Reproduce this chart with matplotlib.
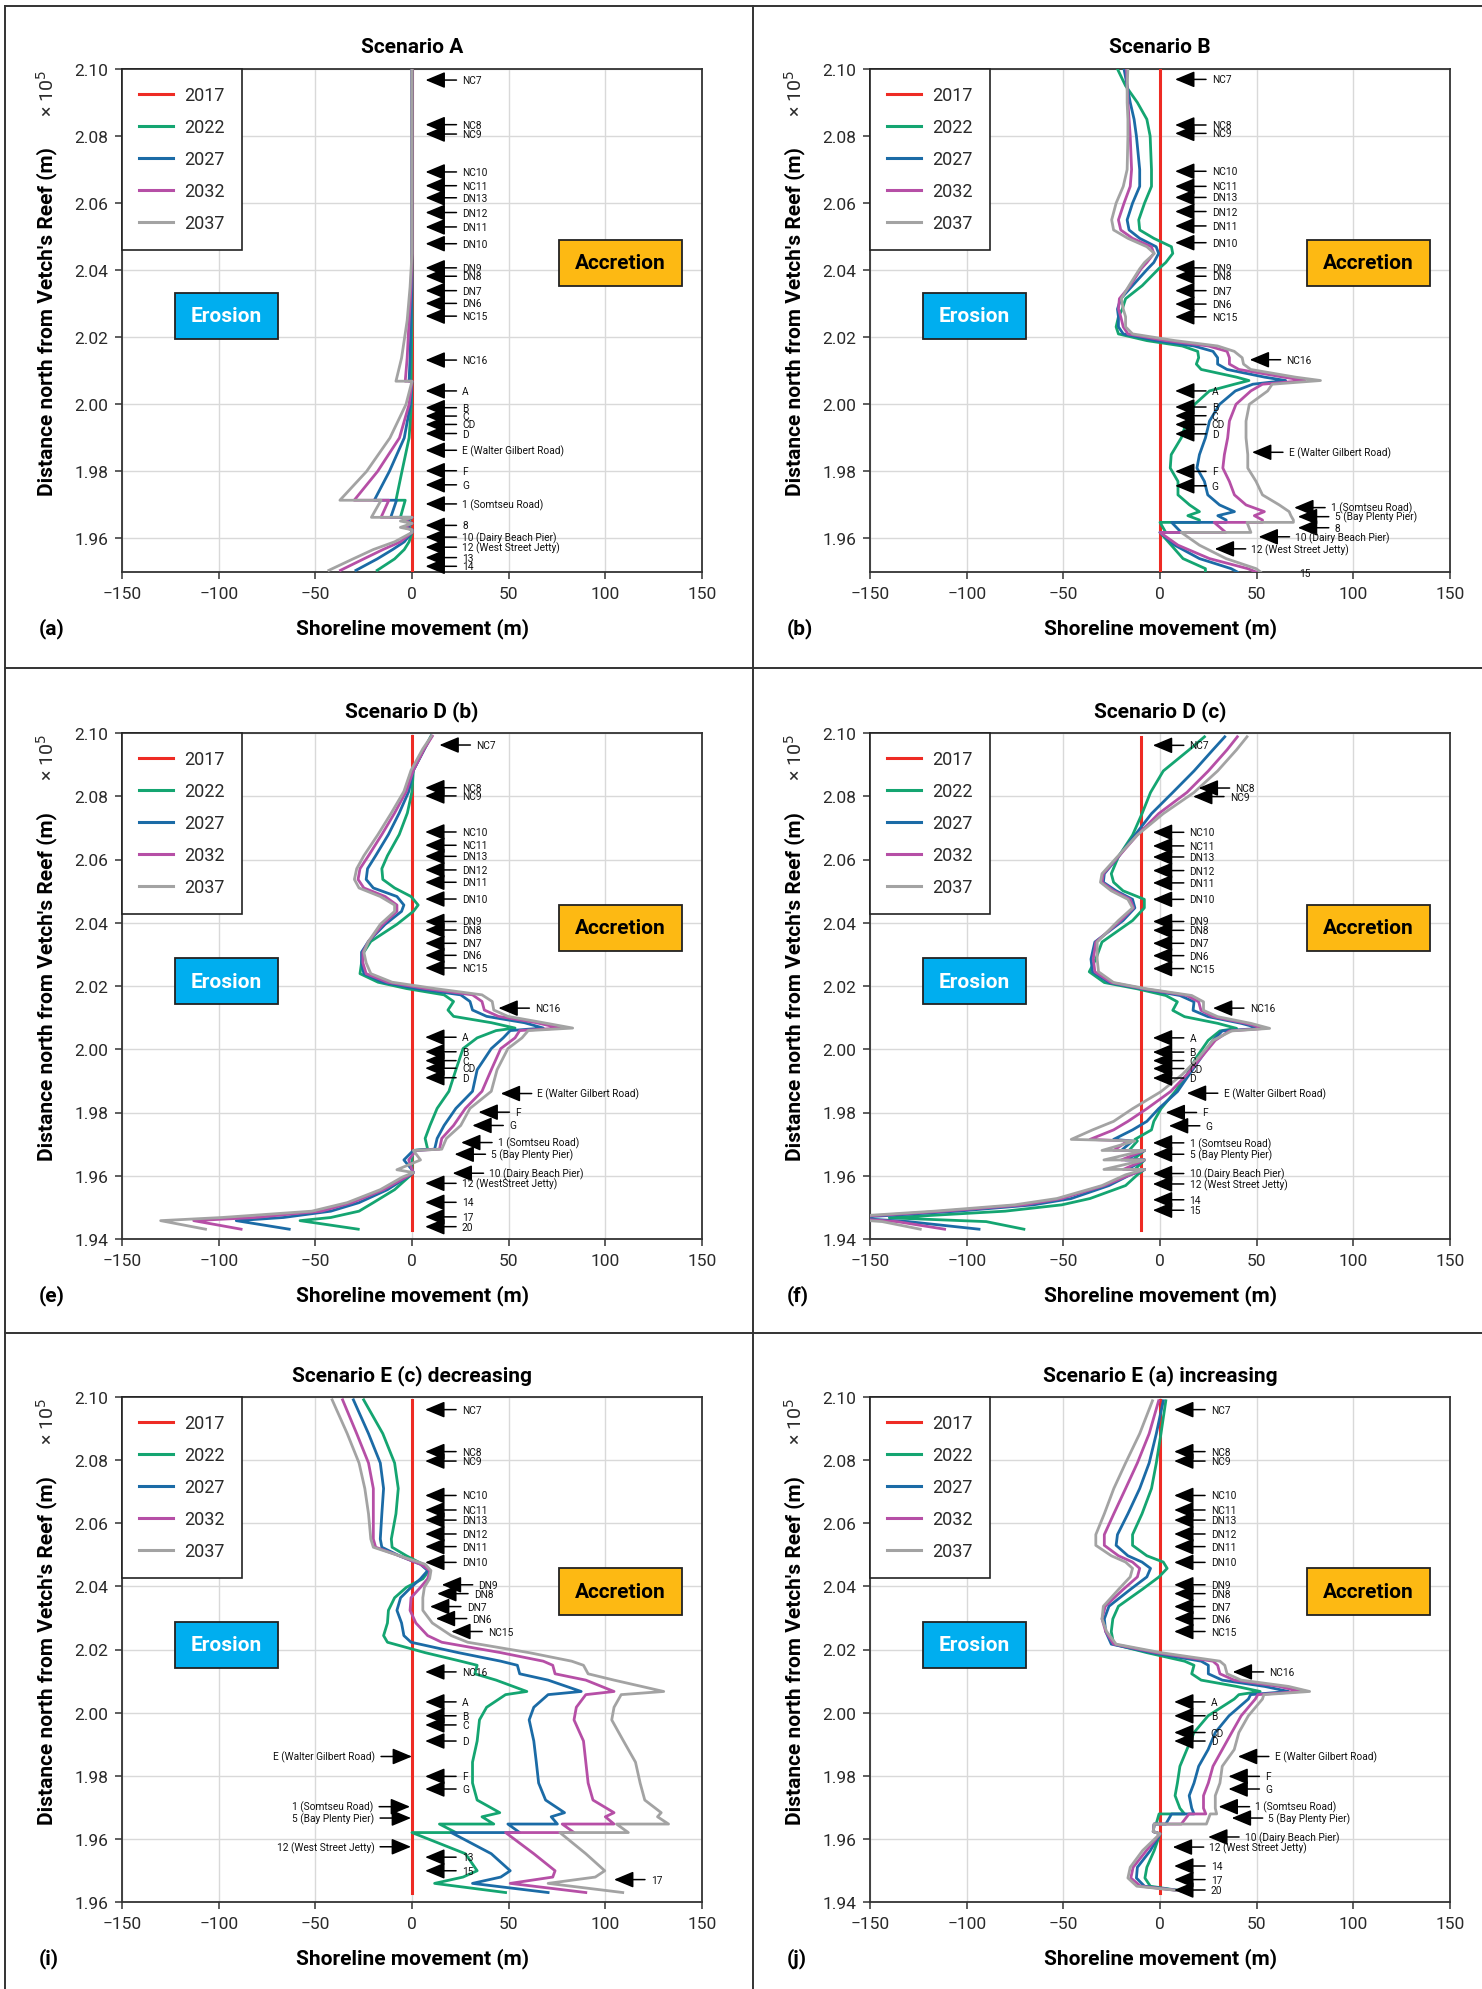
import matplotlib.pyplot as plt
from matplotlib.lines import Line2D
from matplotlib.patches import Rectangle

plt.rcParams['font.family'] = ['Roboto', 'DejaVu Sans']

years = ['2017', '2022', '2027', '2032', '2037']
colours = ['#ee2b24', '#14a571', '#1b6ba6', '#b64fa6', '#a3a3a3']

# ---------------- (a) Scenario A ----------------
a_north = [2.100, 2.045, 2.035, 2.025, 2.0138, 2.0069, 2.0069, 2.000, 1.990, 1.980, 1.9714, 1.9714,
           1.9663, 1.9663, 1.9652, 1.9645, 1.9633, 1.9626, 1.9618, 1.9590, 1.9567, 1.9539, 1.9505]
a_2022 = [0, 0, 0, 0, -0.3, -0.5, 0, -0.3, -1.5, -5.2, -8.3, -3.5, -6, 0, -2, 0, -2, 0, 0, -1.5, -4, -9, -18]
a_2027 = [0, 0, 0, -0.5, -1, -1.5, 0, -0.8, -4, -11.7, -19.5, -8, -11, 0, -3, 0, -3, 0, 0, -4, -10, -18, -29]
a_2032 = [0, 0, -0.5, -1.5, -2.5, -3.5, 0, -1.5, -6.5, -17.8, -29.9, -12, -16, 0, -4, 0, -4, 0, 0, -6, -15, -25, -37]
a_2037 = [0, 0, -1, -2.5, -5.4, -8.3, 0, -3.1, -11.4, -23.5, -37.3, -16, -21, 0, -6, 0, -6, 0, 0, -9, -20, -30.5, -43]
a_base_x = [0, 0]
a_base_north = [2.100, 1.950]
a_tags = ['NC7', 'NC8', 'NC9', 'NC10', 'NC11', 'DN13', 'DN12', 'DN11', 'DN10', 'DN9', 'DN8', 'DN7', 'DN6',
          'NC15', 'NC16', 'A', 'B', 'C', 'CD', 'D', 'E (Walter Gilbert Road)', 'F', 'G', '1 (Somtseu Road)',
          '8', '10 (Dairy Beach Pier)', '12 (West Street Jetty)', '13', '14']
a_tag_north = [2.0967, 2.0834, 2.0806, 2.0693, 2.0652, 2.0616, 2.0572, 2.0529, 2.0479, 2.0407, 2.0382,
               2.0339, 2.0301, 2.0263, 2.0132, 2.0040, 1.9990, 1.9965, 1.9940, 1.9913, 1.9863, 1.9802,
               1.9760, 1.9703, 1.9639, 1.9604, 1.9574, 1.9543, 1.9517]
a_tag_tip = [7] * 29

# ---------------- (b) Scenario B ----------------
b_north = [2.100, 2.095, 2.090, 2.085, 2.080, 2.070, 2.065, 2.060, 2.055, 2.052, 2.0495, 2.047, 2.045,
           2.0423, 2.0404, 2.0354, 2.0315, 2.0284, 2.0261, 2.0231, 2.0210, 2.0190, 2.0174, 2.0158, 2.0139,
           2.0120, 2.0104, 2.0081, 2.0071, 2.0060, 2.004, 2.000, 1.995, 1.990, 1.985, 1.981, 1.977, 1.973,
           1.970, 1.968, 1.9668, 1.9655, 1.9648, 1.9648, 1.9618, 1.9618, 1.958, 1.954, 1.951, 1.950]
b_2022 = [-22, -17.8, -11.7, -6.8, -5.1, -4.4, -4.4, -8, -11, -10.5, -3.2, 5.9, 6.6, 3, -0.7, -9.2, -17.8,
          -19.5, -21.5, -22.7, -21.5, -6.8, 11.5, 19.5, 20, 18.8, 21.3, 39.6, 46, 38.5, 25.6, 17.9, 13.9,
          11, 5.8, 5.3, 9.3, 9.3, 15.3, 20.4, 14.4, 20.4, 20.4, 0, 3, 0, 5.8, 11.9, 23.5, 23.5]
b_2027 = [-18.6, -17, -15.4, -13.4, -12.2, -10.5, -10.5, -14.2, -17, -16, -10.5, -2, -0.7, -3.2, -6.4,
          -14.2, -20.3, -22, -21.5, -21.5, -19, -2, 17.6, 27.4, 29.8, 29.8, 34.7, 54.2, 65, 48, 39, 30.8,
          25.6, 23.5, 20.4, 19.1, 23, 24.7, 30.8, 38.5, 29.9, 34.2, 34.2, 6, 11, 0, 7.6, 20.4, 36.8, 40]
b_2032 = [-17.3, -17, -16.6, -16, -15.4, -14.7, -15.4, -18.6, -21.5, -20.3, -14.2, -4.4, -3.2, -6.8, -9.8,
          -15.4, -21, -21.5, -20.3, -19, -16.6, 3, 25, 34.7, 35.9, 35.9, 40.8, 64, 75, 53, 47, 39.3, 35.9,
          35, 33.3, 32.5, 35.9, 38.5, 44.5, 54, 48.8, 53, 53, 28, 34, 0, 9.3, 25.6, 45.4, 49.7]
b_2037 = [-16.6, -17, -17, -16.6, -16.6, -17, -19, -22.7, -25, -24, -16.6, -6.8, -2.9, -8, -10.5, -16,
          -20, -19, -17.8, -17.8, -14.2, 7.8, 29.8, 38.4, 42.5, 43.2, 46.9, 70.1, 83, 58, 55.7, 46.2, 44.5,
          44.5, 45.4, 45.4, 49.7, 53, 61.7, 66.8, 67.7, 69, 69, 45, 47, 11, 20.4, 34.2, 49.7, 52]
b_base_x = [0, 0]
b_base_north = [2.100, 1.950]
b_tags = ['NC7', 'NC8', 'NC9', 'NC10', 'NC11', 'DN13', 'DN12', 'DN11', 'DN10', 'DN9', 'DN8', 'DN7', 'DN6',
          'NC15', 'NC16', 'A', 'B', 'C', 'CD', 'D', 'E (Walter Gilbert Road)', 'F', 'G', '1 (Somtseu Road)',
          '5 (Bay Plenty Pier)', '8', '10 (Dairy Beach Pier)', '12 (West Street Jetty)', '15']
b_tag_north = [2.0969, 2.0833, 2.0808, 2.0695, 2.0650, 2.0617, 2.0575, 2.0532, 2.0482, 2.0407, 2.0382,
               2.0339, 2.0299, 2.0261, 2.0133, 2.0040, 1.9992, 1.9966, 1.9940, 1.9912, 1.9857, 1.9800,
               1.9757, 1.9692, 1.9665, 1.9632, 1.9605, 1.9569, 1.9496]
b_tag_tip = [7.8] * 14 + [46.4] + [7.8] * 5 + [47.6, 7.8, 7.8, 69.4, 71.3, 71.3, 51, 28.3, 53]

# ---------------- (e) Scenario D (b) ----------------
e_north = [2.099, 2.095, 2.0882, 2.0815, 2.0747, 2.0679, 2.0612, 2.0571, 2.0537, 2.051, 2.0483, 2.0456,
           2.0436, 2.0395, 2.0341, 2.0307, 2.0273, 2.0239, 2.0212, 2.0192, 2.0172, 2.0151, 2.0124, 2.0104,
           2.0084, 2.0067, 2.0059, 2.0036, 2.0002, 1.9935, 1.9867, 1.9813, 1.9759, 1.9718, 1.9684, 1.968,
           1.965, 1.9619, 1.961, 1.9596, 1.9556, 1.9515, 1.9488, 1.9468, 1.9458, 1.9431]
e_2022 = [9.8, 6.4, 0.7, 0, -2.4, -6.6, -12.7, -15.6, -15.1, -9, -0.5, 3.2, 0.7, -7.8, -21.3, -24.9, -26.1,
          -26.9, -17.6, -2.9, 16.6, 21.5, 18.6, 21.5, 41, 53.3, 43.5, 33.7, 26.4, 22.7, 19.1, 13, 9.3, 6.8,
          8.1, 0.7, 0, 0, 0.7, -1.7, -9, -20, -27.4, -42, -57.9, -27.8]
e_2027 = [10, 6.5, 0.7, -1.7, -6.6, -12.2, -18.8, -23, -23.7, -20, -7.8, -4.2, -5.4, -13.9, -22.5, -26.1,
          -26.1, -24.9, -15.1, 2, 25.2, 30, 31.3, 38.6, 58.1, 67.9, 50.8, 47.2, 41, 33.7, 31.3, 22.7, 16.6,
          13, 11.7, 0.7, -4.2, 0, 0.7, -2.5, -12.7, -27.4, -42, -66.5, -90.9, -63.5]
e_2032 = [10.5, 6.4, 0.7, -3, -9, -15.6, -22.5, -26.9, -27.9, -24.9, -13.9, -7.8, -7.8, -15.1, -22.5,
          -25.4, -25.4, -23.7, -12.7, 6.8, 31.3, 36.2, 37.4, 44.7, 64.3, 76.5, 55.7, 53.3, 45.9, 41, 36.2,
          27.6, 21.5, 15.4, 14.2, 2, -1.7, 0, 0.7, -3, -14.7, -31, -46.9, -81.1, -112.9, -88.4]
e_2037 = [10, 5.6, -0.5, -4.2, -10.7, -17.6, -24.9, -28.6, -29.8, -27.4, -16.4, -9, -9, -16.4, -22.5,
          -24.9, -23.7, -21.3, -10.3, 11.7, 36.2, 41.5, 42.3, 49.6, 67.9, 83.1, 60.1, 56.9, 49.6, 44, 41,
          30, 25.2, 17.8, 15.4, 0.7, 4.4, -7.8, 0.7, -4.9, -16.4, -33.5, -51.8, -98.2, -130, -106.8]
e_base_x = [0, 0]
e_base_north = [2.099, 1.9428]
e_tags = ['NC7', 'NC8', 'NC9', 'NC10', 'NC11', 'DN13', 'DN12', 'DN11', 'DN10', 'DN9', 'DN8', 'DN7', 'DN6',
          'NC15', 'NC16', 'A', 'B', 'C', 'CD', 'D', 'E (Walter Gilbert Road)', 'F', 'G', '1 (Somtseu Road)',
          '5 (Bay Plenty Pier)', '10 (Dairy Beach Pier)', '12 (WestStreet Jetty)', '14', '17', '20']
e_tag_north = [2.0962, 2.0827, 2.0801, 2.0687, 2.0645, 2.0610, 2.0567, 2.0528, 2.0475, 2.0404, 2.0377,
               2.0335, 2.0297, 2.0257, 2.0130, 2.0038, 1.9992, 1.9964, 1.9940, 1.9910, 1.9860, 1.9801,
               1.9759, 1.9705, 1.9668, 1.9608, 1.9576, 1.9516, 1.9470, 1.9439]
e_tag_tip = [14.2] + [6.8] * 13 + [44.7] + [6.8] * 5 + [45.9, 34.4, 31.2, 25.4, 22, 21, 6.8, 6.8, 6.8, 6.8]

# ---------------- (f) Scenario D (c) ----------------
f_north = [2.0988, 2.0947, 2.088, 2.0812, 2.0745, 2.0677, 2.0609, 2.0555, 2.0528, 2.0501, 2.0474, 2.0447,
           2.0407, 2.0339, 2.0285, 2.0245, 2.0211, 2.0191, 2.017, 2.015, 2.0123, 2.0103, 2.0082, 2.0066,
           2.0058, 2.0028, 1.9974, 1.992, 1.9866, 1.9812, 1.9772, 1.9745, 1.9715, 1.971, 1.968, 1.968,
           1.965, 1.965, 1.962, 1.962, 1.9603, 1.9569, 1.9528, 1.9508, 1.9488, 1.9467, 1.9455, 1.9431]
f_2022 = [23, 15.1, 1.7, -4.9, -9.3, -14.2, -21.5, -25.2, -24, -19.1, -8.1, -8.1, -14.2, -30, -33.2, -36.6,
          -28.8, -11.7, 3, 9, 6.6, 12.7, 29.8, 39.6, 31, 24.9, 18.8, 13.9, 7.8, 0.5, -3.2, -4.4, -13, -11.7,
          -16, -8, -14, -8, -13, -8, -11.7, -17.8, -36.2, -50.8, -80.1, -140, -89.9, -70.4]
f_2027 = [33.5, 27.4, 17.6, 6.6, -4.4, -13, -21.5, -28.8, -29.3, -22.7, -14.2, -13, -19.1, -33.7, -35.7,
          -34.9, -26.4, -9.3, 10.3, 17.6, 17.1, 24.9, 42, 51.8, 32.2, 27.4, 21.3, 15.1, 9, -0.7, -6.8,
          -14.2, -24, -14.2, -20, -8, -18, -8, -17, -8, -15.4, -26.4, -45.9, -65.5, -104.6, -160, -130.2,
          -93.6]
f_2032 = [40, 34.7, 25, 13.9, -0.7, -11.8, -21.5, -29.3, -30, -24, -15.4, -13.7, -20.3, -33.2, -34.5,
          -33.7, -25.2, -8.1, 13.9, 20, 21.2, 27.4, 44.5, 54.2, 35.9, 28.6, 21.3, 13.9, 5.4, -6.8, -16.6,
          -24, -36.2, -16.6, -24, -8, -20, -8, -19, -8, -15.4, -28.8, -50.8, -70.4, -112, -165, -136, -111.4]
f_2037 = [45, 39.6, 29.8, 17.6, 1.7, -11.8, -22, -30, -30.8, -25.2, -16.6, -14.2, -21.5, -32.5, -32.5,
          -31.8, -24, -6.8, 16.4, 22.5, 22.5, 29.8, 46.9, 56.7, 37.1, 27.4, 20, 11.5, 0.5, -14.2, -24,
          -34.9, -45.9, -13, -30, -8, -29, -8, -29, -8, -17.8, -30, -53.3, -75.2, -116.8, -170, -143.6, -124]
f_base_x = [-10, -10]
f_base_north = [2.0988, 1.9427]
f_tags = ['NC7', 'NC8', 'NC9', 'NC10', 'NC11', 'DN13', 'DN12', 'DN11', 'DN10', 'DN9', 'DN8', 'DN7', 'DN6',
          'NC15', 'NC16', 'A', 'B', 'C', 'CD', 'D', 'E (Walter Gilbert Road)', 'F', 'G', '1 (Somtseu Road)',
          '5 (Bay Plenty Pier)', '10 (Dairy Beach Pier)', '12 (West Street Jetty)', '14', '15']
f_tag_north = [2.0961, 2.0826, 2.0799, 2.0686, 2.0643, 2.0608, 2.0565, 2.0526, 2.0474, 2.0404, 2.0376,
               2.0335, 2.0296, 2.0255, 2.0130, 2.0036, 1.9991, 1.9964, 1.9939, 1.9909, 1.9861, 1.9800,
               1.9758, 1.9704, 1.9668, 1.9607, 1.9574, 1.9524, 1.9491]
f_tag_tip = [-3.7, 20, 17.1] + [-3.7] * 11 + [27.4] + [-3.7] * 5 + [13.9, 2.9, 4.6] + [-3.7] * 6

# ---------------- (i) Scenario E (c) decreasing ----------------
i_north = [2.0991, 2.0884, 2.0791, 2.071, 2.063, 2.055, 2.0524, 2.0497, 2.047, 2.045, 2.0424, 2.0397,
           2.0364, 2.0324, 2.0284, 2.0244, 2.0223, 2.019, 2.0163, 2.015, 2.0123, 2.0103, 2.0067, 2.0057,
           2.0017, 1.9977, 1.991, 1.9843, 1.9777, 1.9723, 1.9683, 1.967, 1.9647, 1.9647, 1.962, 1.962,
           1.9553, 1.9499, 1.9479, 1.9459, 1.943]
i_2022 = [-25, -15.1, -9, -7.1, -8.3, -10.7, -10.3, -2.9, 5.6, 8.8, 5.6, -2.9, -9, -12.2, -12.7, -14.7,
          -12.7, 6.8, 25.2, 33.7, 32.5, 43.5, 59.4, 48.4, 38.6, 34.9, 33.7, 31.3, 31.3, 33.7, 45.4, 36.2,
          42.3, 14.2, 22.7, 0, 27.6, 33.7, 26.4, 11.7, 48.4]
i_2027 = [-30.3, -22.5, -16.4, -14.7, -15.6, -16.4, -15.6, -6.6, 4.4, 8.1, 4.4, -0.5, -5.9, -7.8, -5.4,
          -4.2, -0.5, 24, 45.9, 54.5, 55.7, 70.4, 87.5, 70.4, 63, 60.6, 63, 64.3, 65.5, 69.1, 78.9, 72,
          75.2, 49.6, 55.7, 20.3, 41, 50.8, 45.9, 31.3, 70.4]
i_2032 = [-35.9, -28.6, -22.5, -20, -20, -20, -18.8, -6.6, 4.4, 9.3, 8.1, 4.4, -0.5, -1, 2, 8.1, 15.4,
          45.9, 67.9, 72.8, 74, 89.9, 104.5, 89.9, 85, 83.8, 88.7, 89.9, 91.1, 93.6, 104.5, 100, 104.5,
          77.7, 83.8, 48.4, 63, 74, 72.8, 50.8, 89.9]
i_2037 = [-41.3, -33.5, -27.4, -24.4, -22.5, -21.3, -20, -6.6, 6.8, 9.8, 9.1, 6.4, 5.6, 5.6, 10.5, 20.3,
          28.8, 60.6, 82.6, 88.7, 91.1, 104.5, 130.2, 108.2, 104.5, 103.3, 109.4, 115.6, 118, 120.4, 128.9,
          127, 132.7, 105.8, 111.9, 76.5, 89.9, 99.7, 94.8, 70.4, 109]
i_base_x = [0, 0]
i_base_north = [2.0991, 1.943]
i_tags = ['NC7', 'NC8', 'NC9', 'NC10', 'NC11', 'DN13', 'DN12', 'DN11', 'DN10', 'DN9', 'DN8', 'DN7', 'DN6',
          'NC15', 'NC16', 'A', 'B', 'C', 'D', 'E (Walter Gilbert Road)', 'F', 'G', '1 (Somtseu Road)',
          '5 (Bay Plenty Pier)', '12 (West Street Jetty)', '13', '15', '17']
i_tag_north = [2.0960, 2.0827, 2.0797, 2.0688, 2.0642, 2.0610, 2.0566, 2.0526, 2.0476, 2.0405, 2.0377,
               2.0336, 2.0298, 2.0257, 2.0129, 2.0034, 1.9990, 1.9961, 1.9910, 1.9861, 1.9798, 1.9758,
               1.9702, 1.9666, 1.9575, 1.9542, 1.9499, 1.9471]
i_tag_tip = [6.8] * 9 + [15.4, 13, 9.3, 12.3, 20.3] + [6.8] * 5 + [0, 6.8, 6.8, -1, -0.5, -0.5, 6.8, 6.8, 104.5]
i_point_right = ['E (Walter Gilbert Road)', '1 (Somtseu Road)', '5 (Bay Plenty Pier)', '12 (West Street Jetty)']

# ---------------- (j) Scenario E (a) increasing ----------------
j_north = [2.0988, 2.0884, 2.0791, 2.071, 2.063, 2.0564, 2.053, 2.0497, 2.0477, 2.0457, 2.043, 2.039,
           2.0337, 2.0297, 2.0257, 2.0217, 2.019, 2.0163, 2.015, 2.0123, 2.0103, 2.0083, 2.0067, 2.0057,
           2.0043, 1.999, 1.9937, 1.9883, 1.983, 1.9777, 1.9737, 1.9697, 1.9679, 1.9679, 1.9647, 1.9647,
           1.9623, 1.9616, 1.9563, 1.951, 1.9476, 1.945, 1.9435]
j_2022 = [3, 0.5, -1.9, -4.4, -9.3, -14.2, -14.2, -6.8, 1.7, 3.7, -0.5, -9.3, -21.5, -24.4, -25.2, -24,
          -6.8, 12.7, 17.6, 16.4, 21.3, 39.6, 51.8, 40.8, 38.4, 24.9, 17.6, 13.9, 10.3, 9, 7.8, 10.3, 12.7,
          -0.5, -2, -3, -3.5, 0, -3, -6.8, -7.8, -5, 11.5]
j_2027 = [1.7, -1.9, -5.6, -10.5, -16.6, -22, -22.7, -16.6, -9.3, -4.9, -6.8, -15.4, -26.4, -28.8, -28.1,
          -25.2, -4.4, 21.3, 25, 25, 32.2, 54.2, 66.5, 46.9, 45.7, 35.7, 28.6, 24.9, 20, 17.6, 15.1, 16.4,
          17.6, 6, 3, -3, -3.5, 0, -5, -11.7, -12.2, -8, 11.5]
j_2032 = [-0.7, -5.6, -11.7, -17.8, -23.9, -28.8, -28.8, -21.5, -14.2, -10.5, -11.7, -19.1, -28.3, -30,
          -28.1, -24, -1.9, 27.4, 29.8, 31, 38.4, 61.6, 72.6, 50.6, 49.3, 42, 37.1, 32.2, 27.4, 25, 22.5,
          22.5, 23.7, 15, 11, -3, -3.5, 0, -7, -13.9, -15.1, -10, 11.5]
j_2037 = [-3.9, -10.5, -17.8, -23.9, -28.8, -33.2, -33.2, -25.2, -17.8, -14.2, -15.4, -21.5, -29.3, -30,
          -27.6, -22.7, 0.5, 31, 33.5, 34.7, 42, 66.5, 77.4, 53.7, 53, 45.7, 40.8, 38.4, 32.2, 31, 28.6,
          28.6, 29.3, 26, 24, -3, -3.5, 0, -9, -15.4, -16.6, -12, 11.5]
j_base_x = [0, 0]
j_base_north = [2.0991, 1.943]
j_tags = ['NC7', 'NC8', 'NC9', 'NC10', 'NC11', 'DN13', 'DN12', 'DN11', 'DN10', 'DN9', 'DN8', 'DN7', 'DN6',
          'NC15', 'NC16', 'A', 'B', 'CD', 'D', 'E (Walter Gilbert Road)', 'F', 'G', '1 (Somtseu Road)',
          '5 (Bay Plenty Pier)', '10 (Dairy Beach Pier)', '12 (West Street Jetty)', '14', '17', '20']
j_tag_north = [2.0960, 2.0827, 2.0797, 2.0688, 2.0642, 2.0610, 2.0566, 2.0526, 2.0476, 2.0405, 2.0377,
               2.0336, 2.0298, 2.0257, 2.0129, 2.0034, 1.9990, 1.9937, 1.9910, 1.9861, 1.9798, 1.9758,
               1.9702, 1.9666, 1.9606, 1.9574, 1.9514, 1.9471, 1.9438]
j_tag_tip = [7.3] * 14 + [37.6] + [7.3] * 4 + [40.3, 35.4, 35.4, 30.3, 37.1, 24.9, 6.6, 7.3, 7.3, 7.3]

ticks_short = [1.96, 1.98, 2.00, 2.02, 2.04, 2.06, 2.08, 2.10]
ticks_long = [1.94, 1.96, 1.98, 2.00, 2.02, 2.04, 2.06, 2.08, 2.10]
labels_short = ['1.96', '1.98', '2.00', '2.02', '2.04', '2.06', '2.08', '2.10']
labels_long = ['1.94', '1.96', '1.98', '2.00', '2.02', '2.04', '2.06', '2.08', '2.10']
labels_i = ['1.96', '1.96', '1.98', '2.00', '2.02', '2.04', '2.06', '2.08', '2.10']
x_ticks = [-150, -100, -50, 0, 50, 100, 150]

panels = [
    dict(title='Scenario A', letter='(a)', north=a_north, runs=[a_2022, a_2027, a_2032, a_2037],
         base=(a_base_x, a_base_north), ylim=(1.95, 2.10), yticks=(ticks_short, labels_short),
         tags=(a_tags, a_tag_north, a_tag_tip), right=[]),
    dict(title='Scenario B', letter='(b)', north=b_north, runs=[b_2022, b_2027, b_2032, b_2037],
         base=(b_base_x, b_base_north), ylim=(1.95, 2.10), yticks=(ticks_short, labels_short),
         tags=(b_tags, b_tag_north, b_tag_tip), right=[]),
    dict(title='Scenario D (b)', letter='(e)', north=e_north, runs=[e_2022, e_2027, e_2032, e_2037],
         base=(e_base_x, e_base_north), ylim=(1.94, 2.10), yticks=(ticks_long, labels_long),
         tags=(e_tags, e_tag_north, e_tag_tip), right=[]),
    dict(title='Scenario D (c)', letter='(f)', north=f_north, runs=[f_2022, f_2027, f_2032, f_2037],
         base=(f_base_x, f_base_north), ylim=(1.94, 2.10), yticks=(ticks_long, labels_long),
         tags=(f_tags, f_tag_north, f_tag_tip), right=[]),
    dict(title='Scenario E (c) decreasing', letter='(i)', north=i_north,
         runs=[i_2022, i_2027, i_2032, i_2037], base=(i_base_x, i_base_north), ylim=(1.94, 2.10),
         yticks=(ticks_long, labels_i), tags=(i_tags, i_tag_north, i_tag_tip), right=i_point_right),
    dict(title='Scenario E (a) increasing', letter='(j)', north=j_north,
         runs=[j_2022, j_2027, j_2032, j_2037], base=(j_base_x, j_base_north), ylim=(1.94, 2.10),
         yticks=(ticks_long, labels_long), tags=(j_tags, j_tag_north, j_tag_tip), right=[]),
]

W, H = 1482, 1990
PT = 0.72  # points per pixel at dpi 100
col_left = [122, 870]
col_width = 580
row_top = [70, 734, 1398]
row_bottom = [573, 1240, 1903]
frame_col = '#333333'
text_col = '#2a2a2a'


def offset_text(ax, x, y, dx, dy, s, **kw):
    ax.annotate(s, xy=(x, y), xycoords='axes fraction', xytext=(dx * PT, dy * PT),
                textcoords='offset points', annotation_clip=False, **kw)


def draw_panel(ax, p):
    ax.set_xlim(-150, 150)
    ax.set_ylim(*p['ylim'])
    ax.set_xticks(x_ticks)
    ax.set_xticklabels(['\u2212150', '\u2212100', '\u221250', '0', '50', '100', '150'])
    ax.set_yticks(p['yticks'][0])
    ax.set_yticklabels(p['yticks'][1])
    ax.grid(True, color='#d9d9d9', lw=1.0)
    ax.set_axisbelow(True)
    for sp in ax.spines.values():
        sp.set_color(frame_col)
        sp.set_linewidth(1.3)
    ax.tick_params(direction='out', length=5, width=1.1, color=frame_col, pad=5, labelsize=12.5,
                   labelcolor=text_col)

    bx, by = p['base']
    ax.plot(bx, by, color=colours[0], lw=2.2, zorder=3)
    for run, c in zip(p['runs'], colours[1:]):
        ax.plot(run, p['north'], color=c, lw=2.0, zorder=3)

    # station markers
    names, north, tip = p['tags']
    for name, yv, xv in zip(names, north, tip):
        sign = -1 if name in p['right'] else 1
        ax.annotate('', xy=(xv, yv), xytext=(xv + sign * 16, yv),
                    arrowprops=dict(arrowstyle='-|>,head_length=0.6,head_width=0.25', color='black',
                                    lw=1.1, shrinkA=0, shrinkB=0, mutation_scale=20), zorder=5)
        ax.text(xv + sign * 19, yv, name, fontsize=7.3, va='center',
                ha='left' if sign > 0 else 'right', color='#111111', zorder=5)

    # erosion / accretion boxes
    ax.add_patch(Rectangle((0.091, 0.464), 0.178, 0.091, transform=ax.transAxes,
                           facecolor='#00aeef', edgecolor='#222222', lw=1.3, zorder=4))
    ax.text(0.18, 0.5095, 'Erosion', transform=ax.transAxes, ha='center', va='center',
            fontsize=15, fontweight='bold', color='white', zorder=5)
    ax.add_patch(Rectangle((0.753, 0.569), 0.212, 0.092, transform=ax.transAxes,
                           facecolor='#fdb913', edgecolor='#222222', lw=1.3, zorder=4))
    ax.text(0.859, 0.615, 'Accretion', transform=ax.transAxes, ha='center', va='center',
            fontsize=15, fontweight='bold', color='black', zorder=5)

    handles = [Line2D([], [], color=c, lw=2.2) for c in colours]
    leg = ax.legend(handles, years, loc='upper left', bbox_to_anchor=(0, 1), borderaxespad=0,
                    fancybox=False, framealpha=1, edgecolor='#222222',
                    prop={'size': 13}, handlelength=1.9, handletextpad=0.6,
                    labelspacing=0.78, borderpad=0.95)
    leg.get_frame().set_linewidth(1.2)
    for t in leg.get_texts():
        t.set_color(text_col)
    leg.set_zorder(6)

    offset_text(ax, 0.5, 1, 0, 22, p['title'], ha='center', va='center', fontsize=15,
                fontweight='bold')
    offset_text(ax, 0.5, 0, 0, -56, 'Shoreline movement (m)', ha='center', va='center',
                fontsize=15, fontweight='bold')
    offset_text(ax, 0, 0, -83, -56, p['letter'], ha='left', va='center', fontsize=15,
                fontweight='bold')
    offset_text(ax, 0, 0.5, -75, 0, "Distance north from Vetch's Reef (m)", ha='center',
                va='center', rotation=90, fontsize=15, fontweight='bold')
    offset_text(ax, 0, 1, -75, -24, '\u00d7 10$^{5}$', ha='center', va='center', rotation=90,
                fontsize=14, color=text_col)


fig = plt.figure(figsize=(W / 100, H / 100), dpi=100)
for k, p in enumerate(panels):
    r, c = divmod(k, 2)
    ax = fig.add_axes([col_left[c] / W, 1 - row_bottom[r] / H, col_width / W,
                       (row_bottom[r] - row_top[r]) / H])
    draw_panel(ax, p)

# panel frame lines
for seg in [([5, W], [7, 7]), ([5, 5], [7, H]), ([753, 753], [7, H]),
            ([5, W], [669, 669]), ([5, W], [1334, 1334])]:
    fig.add_artist(Line2D([v / W for v in seg[0]], [1 - v / H for v in seg[1]],
                          color=frame_col, lw=1.4))

fig.savefig('out.png', dpi=100)
